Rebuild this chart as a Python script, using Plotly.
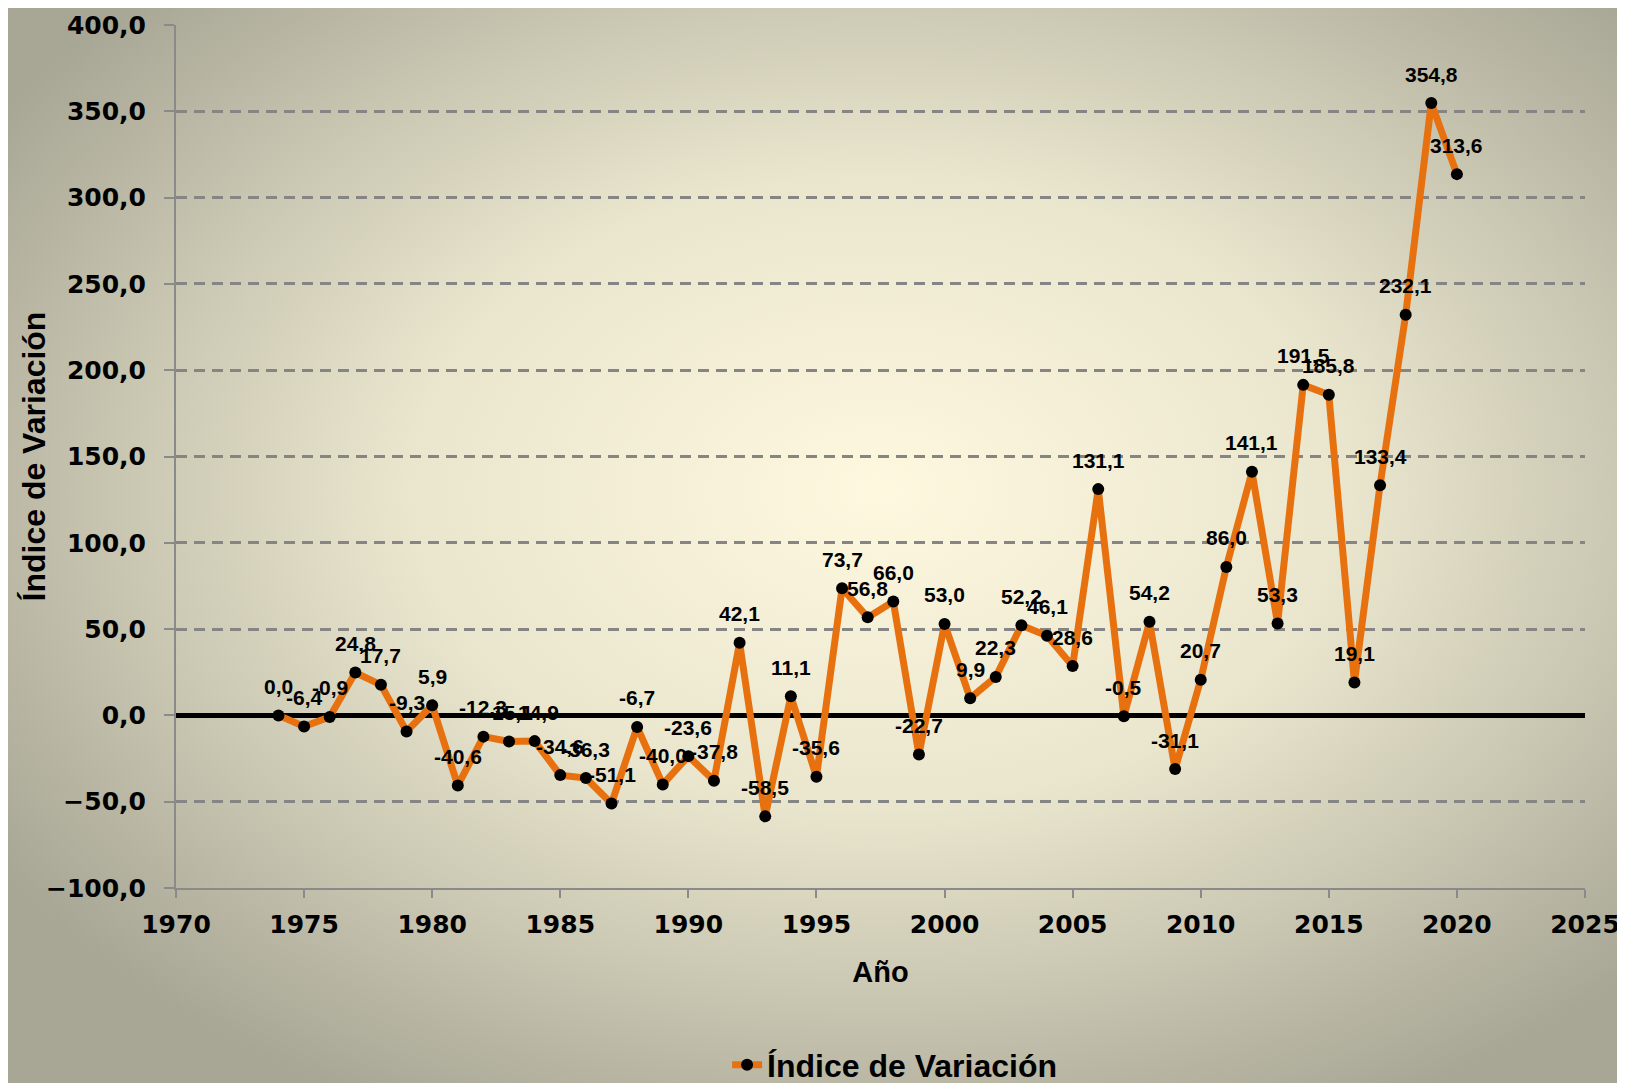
import plotly.graph_objects as go
import base64

years = list(range(1974, 2021))
values = [0.0, -6.4, -0.9, 24.8, 17.7, -9.3, 5.9, -40.6, -12.3, -15.1, -14.9, -34.6, -36.3, -51.1,
          -6.7, -40.0, -23.6, -37.8, 42.1, -58.5, 11.1, -35.6, 73.7, 56.8, 66.0, -22.7, 53.0, 9.9,
          22.3, 52.2, 46.1, 28.6, 131.1, -0.5, 54.2, -31.1, 20.7, 86.0, 141.1, 53.3, 191.5, 185.8,
          19.1, 133.4, 232.1, 354.8, 313.6]
labels = [f"{v:.1f}".replace(".", ",") for v in values]
series_name = "Índice de Variación"
y_title = "Índice de Variación"
x_title = "Año"

W, H = 1617, 1083
ml, mr, mt, mb = 168, 40, 17, 203
pw, ph = W - ml - mr, H - mt - mb
off = 8
BW, BH = W + off, H + off

svg = f'''<svg xmlns="http://www.w3.org/2000/svg" width="{BW}" height="{BH}" viewBox="0 0 {BW} {BH}" preserveAspectRatio="none">
<defs><radialGradient id="g" cx="0.54" cy="0.45" r="0.64" gradientUnits="objectBoundingBox">
<stop offset="0" stop-color="#fdf8de"/><stop offset="0.45" stop-color="#eae6ce"/>
<stop offset="1" stop-color="#a8a695"/></radialGradient></defs>
<rect width="{BW}" height="{BH}" fill="url(#g)"/></svg>'''
src = "data:image/svg+xml;base64," + base64.b64encode(svg.encode()).decode()

fig = go.Figure()
fig.add_trace(go.Scatter(
    x=years, y=values, mode="lines+markers", name=series_name,
    line=dict(color="#e8710f", width=7),
    marker=dict(color="black", size=12),
    cliponaxis=False,
))

label_font = dict(family="Liberation Sans, Arial", size=21, color="black", weight="bold")
annotations = [dict(x=x, y=y, text=t, showarrow=False, xref="x", yref="y",
                    xanchor="center", yanchor="middle", yshift=29, font=label_font)
               for x, y, t in zip(years, values, labels)]
annotations.append(dict(text=y_title, x=-0.1008, y=0.5, xref="paper", yref="paper",
                        showarrow=False, textangle=-90, xanchor="center", yanchor="middle",
                        font=dict(family="Liberation Sans Narrow, Arial Narrow, Liberation Sans",
                                  size=32, color="black", weight="bold")))

tickfont = dict(family="DejaVu Sans", size=25, color="black", weight="bold")
fig.update_layout(
    width=W, height=H,
    margin=dict(l=ml, r=mr, t=mt, b=mb),
    paper_bgcolor="#c9c5b0", plot_bgcolor="rgba(0,0,0,0)",
    separators=",.",
    annotations=annotations,
    images=[dict(source=src, xref="paper", yref="paper",
                 x=-(ml + off) / pw, y=1 + (mt + off) / ph, sizex=BW / pw, sizey=BH / ph,
                 xanchor="left", yanchor="top", sizing="stretch", layer="below")],
    xaxis=dict(range=[1970, 2025], dtick=5, tick0=1970, showgrid=False, automargin=False,
               showline=True, linecolor="#8a8a8a", linewidth=2,
               ticks="outside", ticklen=8, tickcolor="#8a8a8a", tickwidth=2,
               ticklabelstandoff=5, tickfont=tickfont,
               title=dict(text=x_title, font=dict(family="Liberation Sans, Arial", size=29, color="black", weight="bold"), standoff=24)),
    yaxis=dict(range=[-100, 400], dtick=50, tickformat=".1f", automargin=False,
               showgrid=True, gridcolor="#858585", gridwidth=2.5, griddash="11px,7px",
               zeroline=True, zerolinecolor="black", zerolinewidth=5,
               showline=True, linecolor="#8a8a8a", linewidth=2,
               ticks="outside", ticklen=10, tickcolor="#8a8a8a", tickwidth=2,
               ticklabelstandoff=13, tickfont=tickfont),
    showlegend=True,
    legend=dict(orientation="h", x=0.51, xanchor="center", yref="container", y=0.024, yanchor="middle",
                bgcolor="rgba(0,0,0,0)",
                font=dict(family="Liberation Sans, Arial", size=32, color="black", weight="bold")),
)

fig.write_html("out.html")
